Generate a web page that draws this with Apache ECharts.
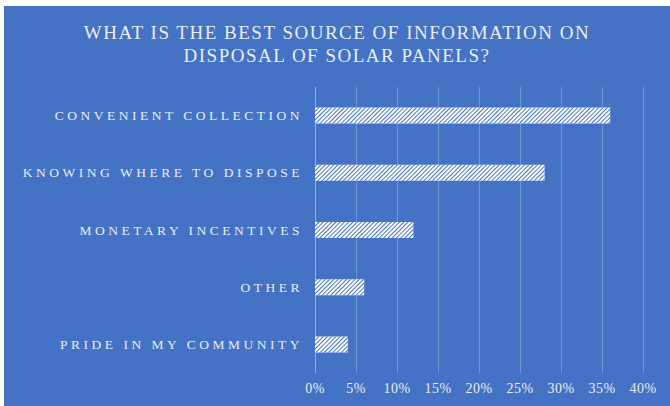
<!DOCTYPE html>
<html>
<head>
<meta charset="utf-8">
<script src="https://cdn.jsdelivr.net/npm/echarts@6/dist/echarts.min.js"></script>
<style>
  html, body { margin: 0; padding: 0; background: #ffffff; }
  #wrap { position: relative; width: 670px; height: 406px; overflow: hidden; background: #ffffff; }
  #chart { position: absolute; left: 4px; top: 6px; width: 666px; height: 400px; background: #4472C4; }
</style>
</head>
<body>
<div id="wrap"><div id="chart"></div></div>
<script>
// Survey answers, listed top to bottom
const categories = [
  'CONVENIENT COLLECTION',
  'KNOWING WHERE TO DISPOSE',
  'MONETARY INCENTIVES',
  'OTHER',
  'PRIDE IN MY COMMUNITY'
];
// Share of respondents, in percent
const shares = [36, 28, 12, 6, 4];
// Value axis range and step (percent)
const axisMin = 0;
const axisMax = 40;
const axisStep = 5;
const titleLines = [
  'WHAT IS THE BEST SOURCE OF INFORMATION ON',
  'DISPOSAL OF SOLAR PANELS?'
];

const BG = '#4472C4';
const TEXT = '#e9edf6';
const GRID = 'rgba(255,255,255,0.25)';
const FONT = 'Liberation Serif';

const chart = echarts.init(document.getElementById('chart'), null, { renderer: 'svg' });

chart.setOption({
  animation: false,
  backgroundColor: BG,
  title: {
    text: titleLines.join('\n'),
    left: 'center',
    top: 10,
    textStyle: {
      color: TEXT,
      fontFamily: FONT,
      fontSize: 19,
      fontWeight: 'normal',
      lineHeight: 23,
      align: 'center'
    }
  },
  grid: { left: 311, right: 27, top: 81, bottom: 33, containLabel: false },
  xAxis: {
    type: 'value',
    min: axisMin,
    max: axisMax,
    interval: axisStep,
    axisLine: { show: false },
    axisTick: { show: false },
    splitLine: { show: true, lineStyle: { color: GRID, width: 1 } },
    axisLabel: {
      color: TEXT,
      fontFamily: FONT,
      fontSize: 14,
      margin: 8,
      formatter: '{value}%'
    }
  },
  yAxis: {
    type: 'category',
    inverse: true,
    data: categories,
    axisLine: { show: true, lineStyle: { color: GRID, width: 1 } },
    axisTick: { show: false },
    splitLine: { show: false },
    axisLabel: {
      color: TEXT,
      fontFamily: FONT,
      fontSize: 13.5,
      margin: 12
    }
  },
  series: [{
    type: 'bar',
    data: shares,
    barWidth: 16,
    itemStyle: {
      color: '#ffffff',
      decal: {
        symbol: 'rect',
        symbolSize: 1,
        color: BG,
        dashArrayX: [1, 0],
        dashArrayY: [1, 2],
        rotation: -Math.PI / 4
      }
    },
    silent: true
  }]
});

// Letter spacing for the spaced-out caps lettering
function applySpacing() {
  document.querySelectorAll('#chart svg text').forEach(function (t) {
    const s = (t.textContent || '').trim();
    if (categories.indexOf(s) >= 0) {
      t.style.letterSpacing = '3.5px';
    } else if (/%$/.test(s)) {
      t.style.letterSpacing = '0.5px';
    } else {
      t.style.letterSpacing = '1.5px';
    }
  });
}
applySpacing();
chart.on('finished', applySpacing);
</script>
</body>
</html>
